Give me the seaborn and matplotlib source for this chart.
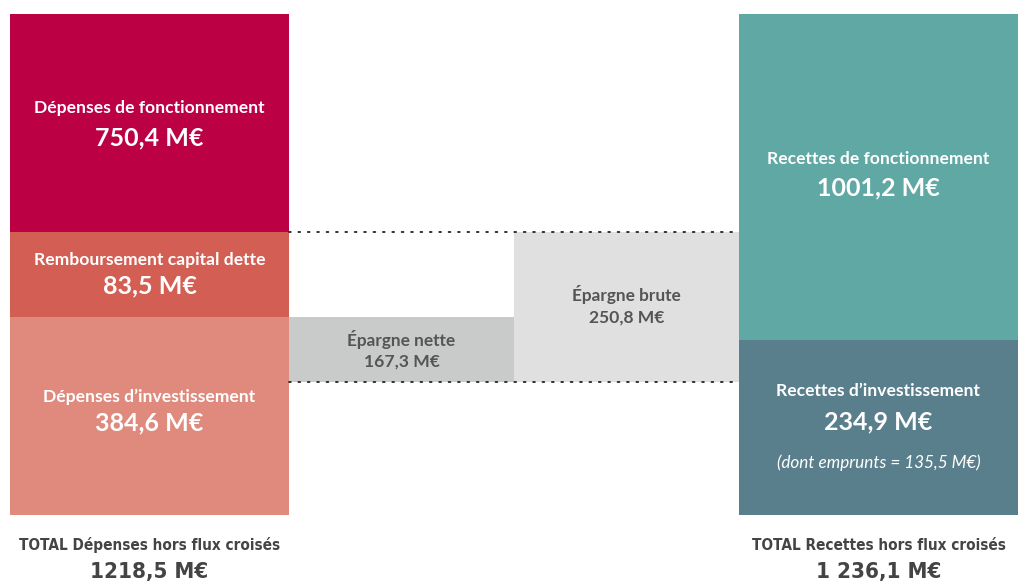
import matplotlib
matplotlib.use("Agg")
import matplotlib.pyplot as plt
from matplotlib import font_manager
import pandas as pd
import seaborn as sns

# blocks of the balance chart (drawn heights are read off the picture, not to scale)
block_names = ["Dépenses d’investissement", "Remboursement capital dette", "Dépenses de fonctionnement",
               "Épargne nette", "Épargne brute",
               "Recettes d’investissement", "Recettes de fonctionnement"]
block_values = ["384,6 M€", "83,5 M€", "750,4 M€", "167,3 M€", "250,8 M€", "234,9 M€", "1001,2 M€"]
block_column = ["dep", "dep", "dep", "nette", "brute", "rec", "rec"]
block_heights = [198, 85, 218, 65, 150, 175, 326]
epargne_base = 133
note_text = "(dont emprunts = 135,5 M€)"
total_labels = ["TOTAL Dépenses hors flux croisés", "TOTAL Recettes hors flux croisés"]
total_values = ["1218,5 M€", "1 236,1 M€"]

colors = ["#E08A7E", "#D35F54", "#BC0044", "#C9CBCA", "#E0E0E0", "#5A7F8C", "#5FA8A3"]
text_colors = ["white", "white", "white", "#555555", "#555555", "white", "white"]
col_left = {"dep": 10, "nette": 289, "brute": 514, "rec": 739}
col_width = {"dep": 279, "nette": 225, "brute": 225, "rec": 279}
# title / value offsets from block centre (axis units, up is positive)
title_off = [19, 15, 15, 10, 13, 36, 18]
value_off = [-7, -11, -15, -12, -11, 6, -11]
title_size = [12.6, 12.6, 12.6, 12.4, 12.4, 12.6, 12.6]
value_size = [18, 18, 18, 12.6, 12.6, 18, 18]

df = pd.DataFrame({"name": block_names, "value": block_values, "col": block_column,
                   "height": block_heights})
df["bottom"] = 0.0
for col in df["col"].unique():
    idx = df.index[df["col"] == col]
    base = epargne_base if col in ("nette", "brute") else 0
    df.loc[idx, "bottom"] = base + df.loc[idx, "height"].cumsum().shift(fill_value=0)

sns.set_theme(style="white")
plt.rcParams["font.family"] = ["Lato", "DejaVu Sans"]

fig = plt.figure(figsize=(10.18, 5.82), dpi=100)
ax = fig.add_axes([0, 67 / 582, 1, 501 / 582])
ax.set_xlim(0, 1018)
ax.set_ylim(0, 501)
ax.axis("off")

for i, row in df.iterrows():
    x0 = col_left[row["col"]]
    w = col_width[row["col"]]
    ax.bar(x0, row["height"], width=w, bottom=row["bottom"], align="edge",
           color=colors[i], linewidth=0)
    cx = x0 + w / 2
    cy = row["bottom"] + row["height"] / 2
    ax.text(cx, cy + title_off[i], row["name"], ha="center", va="center",
            fontsize=title_size[i], fontweight="bold", color=text_colors[i])
    ax.text(cx, cy + value_off[i], row["value"], ha="center", va="center",
            fontsize=value_size[i], fontweight="bold", color=text_colors[i])
    if row["name"] == "Recettes d’investissement":
        ax.text(cx, cy - 35, note_text, ha="center", va="center", fontsize=12.3,
                style="italic", color="white")

# dotted guide lines between the two bars
top_fonct = df.loc[2, "bottom"]
for y in (epargne_base, top_fonct):
    ax.plot([289, 739], [y, y], color="#222222", linestyle=(0, (1, 4.2)), linewidth=1.3,
            solid_capstyle="round", dash_capstyle="round", zorder=3, clip_on=False)

# condensed face for the totals if one is available
names = {f.name for f in font_manager.fontManager.ttflist}
cond = [f for f in font_manager.fontManager.ttflist
        if f.name == "DejaVu Sans" and f.stretch == "condensed" and f.weight in (700, "bold")]
if "Liberation Sans Narrow" in names:
    tot_kw = dict(family="Liberation Sans Narrow", fontweight="bold", lab=12.5, val=18)
elif cond:
    tot_kw = dict(family="DejaVu Sans", fontstretch="condensed", fontweight="bold", lab=11, val=16)
else:
    tot_kw = dict(family="Lato", fontweight="heavy", lab=11.5, val=17)
lab_size = tot_kw.pop("lab")
val_size = tot_kw.pop("val")
for cx, lab, val in zip([149.5, 878.5], total_labels, total_values):
    fig.text(cx / 1018, 1 - 545 / 582, lab, ha="center", va="center", fontsize=lab_size,
             color="#444444", **tot_kw)
    fig.text(cx / 1018, 1 - 572 / 582, val, ha="center", va="center", fontsize=val_size,
             color="#444444", **tot_kw)

fig.savefig("out.png", dpi=100)
